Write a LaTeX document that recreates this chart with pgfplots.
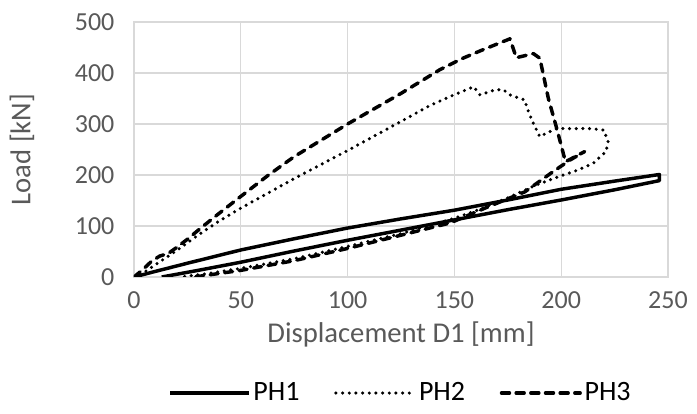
\documentclass[border=0pt]{standalone}
\usepackage{fontspec}
\setmainfont{Carlito}
\usepackage{pgfplots}
\pgfplotsset{compat=1.18}
\definecolor{txtgray}{HTML}{595959}
\definecolor{gridgray}{HTML}{D9D9D9}

\begin{document}
\fontsize{19.5pt}{23pt}\selectfont
\begin{tikzpicture}
% page size = reference frame (697 x 414 px at 0.75pt/px)
\useasboundingbox (-100.5pt,-102.75pt) rectangle (422.25pt,207.75pt);
\begin{axis}[
    at={(0pt,0pt)}, anchor=south west,
    scale only axis,
    width=400.5pt, height=191.25pt,
    xmin=0, xmax=250, ymin=0, ymax=500,
    xtick={0,50,...,250}, ytick={0,100,...,500},
    grid=major,
    major grid style={gridgray, line width=1pt},
    axis line style={gridgray, line width=1pt},
    major tick length=0pt,
    tick label style={txtgray},
    /pgf/number format/assume math mode=true,
    xticklabel style={yshift=-4pt},
    yticklabel style={xshift=-8pt},
    xlabel={Displacement D1 [mm]},
    ylabel={Load [kN]},
    label style={txtgray, font=\fontsize{21.5pt}{25pt}\selectfont},
    xlabel style={at={(axis description cs:0.5,-0.225)}, anchor=center},
    ylabel style={at={(axis description cs:-0.21,0.5)}, anchor=center},
    legend style={at={(0.5,-0.455)}, anchor=center, draw=none,
        legend columns=3, fill=none, font=\fontsize{21pt}{25pt}\selectfont,
        /tikz/every even column/.append style={column sep=24pt}},
    legend image code/.code={\draw[#1] (0pt,0pt) -- (59pt,0pt);},
    every axis plot/.append style={black, line width=2.6pt, line join=round},
]

% PH1
\addplot[solid] coordinates {
    (0,0) (10,11) (25,27) (50,53) (75,75) (100,96) (125,114) (150,131)
    (175,151) (200,172) (225,188) (246,201)
    (246,189) (225,171) (200,151) (175,132) (150,112) (125,92) (100,72)
    (75,51) (50,29) (30,13) (13,0)
};

% PH2
\addplot[line cap=round, dash pattern=on 0pt off 5pt] coordinates {
    (0,0) (5,10) (10,24) (20,52) (31,85) (40,110) (50,135) (75,193)
    (100,248) (125,305) (138,335) (148,354) (159,373) (162,357) (169,367)
    (173,367) (176,357) (183,347) (184,331) (187,301) (190,275) (193,282)
    (198,291) (214,291) (220,288) (222,265) (221,246) (215,223) (208,210)
    (199,197) (188,180) (175,155) (160,130) (150,115) (125,85) (100,60)
    (75,36) (50,17) (35,7) (22,0)
};

% PH3
\addplot[line cap=round, dash pattern=on 6pt off 5pt] coordinates {
    (0,0) (4,14) (8,30) (12,41) (16,46) (20,58) (25,74) (31,95) (39,122)
    (50,158) (63,200) (75,236) (100,300) (125,360) (143,406) (154,429)
    (163,445) (176,467) (179,430) (187,438) (190,429) (194,350) (198,290)
    (202,226) (207,237) (211,246)
    (204,229) (196,206) (183,167) (166,138) (148,106) (125,82) (100,56)
    (75,32) (50,13) (35,4) (28,0)
};

\legend{PH1, PH2, PH3}
\end{axis}
\end{tikzpicture}
\end{document}
